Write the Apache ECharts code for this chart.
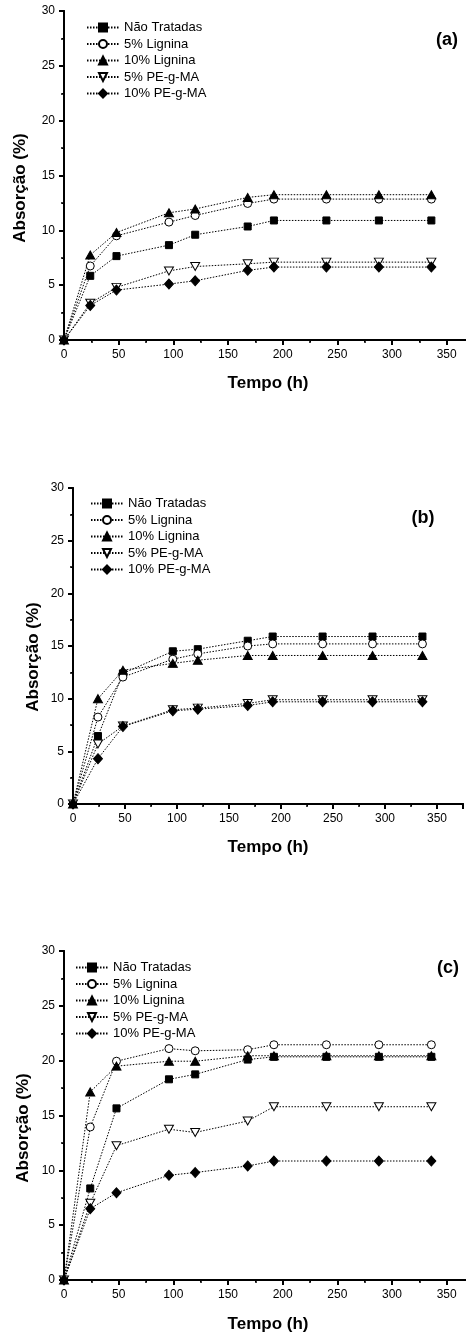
<!DOCTYPE html>
<html>
<head>
<meta charset="utf-8">
<script src="https://cdn.jsdelivr.net/npm/echarts@6/dist/echarts.min.js"></script>
<style>
  html, body { margin: 0; padding: 0; background: #fff; }
  #chart { width: 466px; height: 1335px; }
</style>
</head>
<body>
<div id="chart"></div>
<script>
// tempo (h)
var hours = [0, 24, 48, 96, 120, 168, 192, 240, 288, 336];
var seriesNames = ['Não Tratadas', '5% Lignina', '10% Lignina', '5% PE-g-MA', '10% PE-g-MA'];
var panelLabels = ['(a)', '(b)', '(c)'];

// painel (a)
var naoTratadasA = [0, 5.85, 7.65, 8.65, 9.6, 10.35, 10.9, 10.9, 10.9, 10.9];
var lignina5A = [0, 6.75, 9.5, 10.75, 11.35, 12.45, 12.85, 12.85, 12.85, 12.85];
var lignina10A = [0, 7.75, 9.8, 11.6, 11.95, 13.0, 13.25, 13.25, 13.25, 13.25];
var pegma5A = [0, 3.35, 4.8, 6.3, 6.7, 6.95, 7.1, 7.1, 7.1, 7.1];
var pegma10A = [0, 3.15, 4.55, 5.1, 5.4, 6.35, 6.65, 6.65, 6.65, 6.65];

// painel (b)
var naoTratadasB = [0, 6.45, 12.4, 14.5, 14.7, 15.5, 15.9, 15.9, 15.9, 15.9];
var lignina5B = [0, 8.25, 12.05, 13.75, 14.25, 15.0, 15.2, 15.2, 15.2, 15.2];
var lignina10B = [0, 10.0, 12.7, 13.35, 13.65, 14.1, 14.1, 14.1, 14.1, 14.1];
var pegma5B = [0, 5.7, 7.4, 8.95, 9.1, 9.55, 9.9, 9.9, 9.9, 9.9];
var pegma10B = [0, 4.3, 7.35, 8.85, 9.0, 9.35, 9.7, 9.7, 9.7, 9.7];

// painel (c)
var naoTratadasC = [0, 8.35, 15.65, 18.3, 18.75, 20.1, 20.35, 20.35, 20.35, 20.35];
var lignina5C = [0, 13.95, 19.95, 21.1, 20.9, 21.0, 21.45, 21.45, 21.45, 21.45];
var lignina10C = [0, 17.15, 19.5, 19.95, 19.95, 20.45, 20.45, 20.45, 20.45, 20.45];
var pegma5C = [0, 7.0, 12.25, 13.75, 13.45, 14.5, 15.8, 15.8, 15.8, 15.8];
var pegma10C = [0, 6.5, 7.95, 9.55, 9.8, 10.4, 10.85, 10.85, 10.85, 10.85];

var panels = [
  [naoTratadasA, lignina5A, lignina10A, pegma5A, pegma10A],
  [naoTratadasB, lignina5B, lignina10B, pegma5B, pegma10B],
  [naoTratadasC, lignina5C, lignina10C, pegma5C, pegma10C]
];

var grids = [
  { left: 64, top: 11, width: 410, height: 329, outerBoundsMode: 'none' },
  { left: 73, top: 488, width: 390, height: 316, outerBoundsMode: 'none' },
  { left: 64, top: 951, width: 410, height: 329, outerBoundsMode: 'none' }
];

var downTri = 'path://M0,0 L10,0 L5,10 Z';
var markers = [
  { symbol: 'rect', size: 7, fill: '#000' },
  { symbol: 'circle', size: 8, fill: '#fff' },
  { symbol: 'triangle', size: [9, 8], fill: '#000' },
  { symbol: downTri, size: [9, 8], fill: '#fff' },
  { symbol: 'diamond', size: [9, 10], fill: '#000' }
];

var font = '"Liberation Sans", Arial, sans-serif';
var black = '#000';

var xAxes = [], yAxes = [], series = [];
grids.forEach(function (g, i) {
  xAxes.push({
    type: 'value', gridIndex: i, min: 0, max: 375, interval: 50,
    axisLine: { show: true, lineStyle: { color: black, width: 2 } },
    axisTick: { show: true, length: 5, lineStyle: { color: black, width: 2 } },
    minorTick: { show: true, splitNumber: 2, length: 3, lineStyle: { color: black, width: 1.5 } },
    axisLabel: { color: black, fontSize: 12, fontFamily: font, margin: 9, showMaxLabel: false },
    splitLine: { show: false }
  });
  yAxes.push({
    type: 'value', gridIndex: i, min: 0, max: 30, interval: 5,
    axisLine: { show: true, lineStyle: { color: black, width: 2 } },
    axisTick: { show: true, length: 5, lineStyle: { color: black, width: 2 } },
    minorTick: { show: true, splitNumber: 2, length: 3, lineStyle: { color: black, width: 1.5 } },
    axisLabel: { color: black, fontSize: 12, fontFamily: font, margin: 9 },
    splitLine: { show: false }
  });
});
grids.forEach(function (g, i) {
  xAxes.push({
    type: 'value', gridIndex: i, position: 'top', min: 0, max: 375, interval: 50,
    axisLine: { show: true, lineStyle: { color: black, width: 2 } },
    axisTick: { show: true, inside: true, length: 3, lineStyle: { color: black, width: 1 } },
    minorTick: { show: true, splitNumber: 2, length: 2, lineStyle: { color: black, width: 1 } },
    axisLabel: { show: false },
    splitLine: { show: false }
  });
  yAxes.push({
    type: 'value', gridIndex: i, position: 'right', min: 0, max: 30, interval: 5,
    axisLine: { show: true, lineStyle: { color: black, width: 2 } },
    axisTick: { show: true, inside: true, length: 3, lineStyle: { color: black, width: 1 } },
    minorTick: { show: true, splitNumber: 2, length: 2, lineStyle: { color: black, width: 1 } },
    axisLabel: { show: false },
    splitLine: { show: false }
  });
});

panels.forEach(function (vals, p) {
  vals.forEach(function (arr, s) {
    var m = markers[s];
    series.push({
      name: seriesNames[s],
      type: 'line',
      xAxisIndex: p,
      yAxisIndex: p,
      data: hours.map(function (h, k) { return [h, arr[k]]; }),
      symbol: m.symbol,
      symbolSize: m.size,
      showAllSymbol: true,
      lineStyle: { color: black, width: 1, type: [1.5, 1.5] },
      itemStyle: { color: m.fill, borderColor: black, borderWidth: 1 },
      emphasis: { disabled: true },
      animation: false
    });
  });
});

var legendPos = [
  { left: 86, top: 21 },
  { left: 90, top: 497 },
  { left: 75, top: 961 }
];
var legends = legendPos.map(function (lp) {
  return {
    left: lp.left, top: lp.top, orient: 'vertical', padding: 0,
    itemWidth: 32, itemHeight: 10, itemGap: 3.5,
    textStyle: { color: black, fontSize: 13, fontFamily: font, lineHeight: 12 },
    data: seriesNames,
    selectedMode: false
  };
});

var labelPos = [[447, 40], [423, 518], [448, 968]];
var yTitlePos = [[20, 188], [33, 657], [23, 1128]];
var xTitlePos = [[268, 383], [268, 847], [268, 1324]];
var graphic = [];
panelLabels.forEach(function (lab, i) {
  graphic.push({
    type: 'text', x: labelPos[i][0], y: labelPos[i][1],
    style: { text: lab, font: 'bold 18px ' + font, fill: black,
      align: 'center', verticalAlign: 'middle', textAlign: 'center', textVerticalAlign: 'middle' }
  });
  graphic.push({
    type: 'text', x: yTitlePos[i][0], y: yTitlePos[i][1], rotation: Math.PI / 2,
    style: { text: 'Absorção (%)', font: 'bold 17px ' + font, fill: black,
      align: 'center', verticalAlign: 'middle', textAlign: 'center', textVerticalAlign: 'middle' }
  });
  graphic.push({
    type: 'text', x: xTitlePos[i][0], y: xTitlePos[i][1],
    style: { text: 'Tempo (h)', font: 'bold 17px ' + font, fill: black,
      align: 'center', verticalAlign: 'middle', textAlign: 'center', textVerticalAlign: 'middle' }
  });
});

var chart = echarts.init(document.getElementById('chart'));
chart.setOption({
  animation: false,
  backgroundColor: '#fff',
  grid: grids,
  xAxis: xAxes,
  yAxis: yAxes,
  legend: legends,
  series: series,
  graphic: graphic
});
</script>
</body>
</html>
